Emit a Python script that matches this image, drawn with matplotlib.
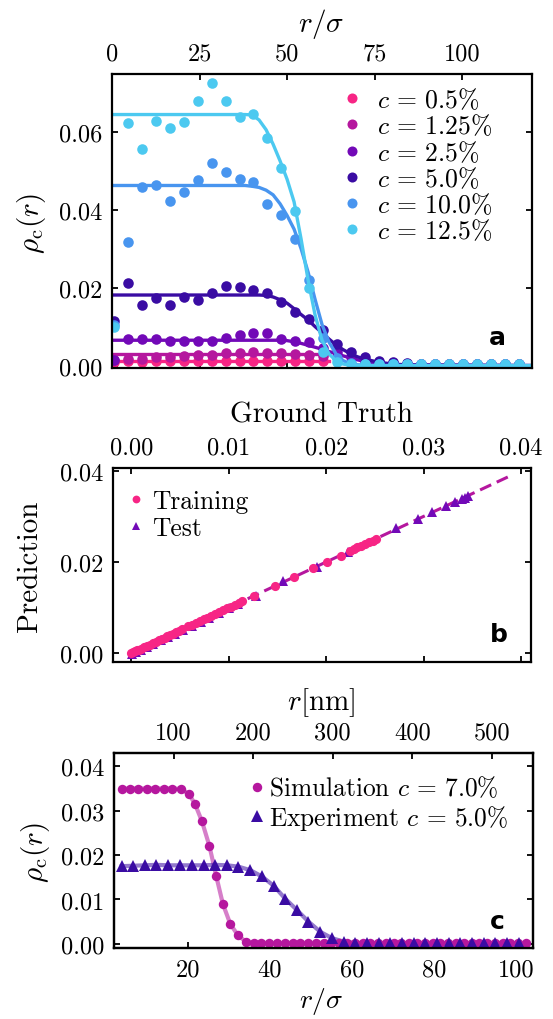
import matplotlib
matplotlib.use("Agg")
import matplotlib.pyplot as plt
from matplotlib.ticker import FixedLocator, FuncFormatter

plt.rcParams['font.family'] = 'serif'
plt.rcParams['font.serif'] = ['cmr10', 'DejaVu Serif']
plt.rcParams['mathtext.fontset'] = 'cm'
plt.rcParams['axes.unicode_minus'] = False
plt.rcParams['axes.formatter.use_mathtext'] = True

# ---------------- Panel a data ----------------
a_x = [0.4, 4.4, 8.4, 12.4, 16.4, 20.4, 24.4, 28.4, 32.4, 36.4, 40.4, 44.4, 48.4, 52.4, 56.4, 60.4,
       64.4, 68.4, 72.4, 76.4, 80.4, 84.4, 88.4, 92.4, 96.4, 100.4, 104.4, 108.4, 112.4, 116.4]
a_labels = ['$c\\,=\\,0.5\\%$', '$c\\,=\\,1.25\\%$', '$c\\,=\\,2.5\\%$', '$c\\,=\\,5.0\\%$',
            '$c\\,=\\,10.0\\%$', '$c\\,=\\,12.5\\%$']
a_colors = ['#f72585', '#b5179e', '#7209b7', '#3a0ca3', '#4895ef', '#4cc9f0']

pts_c05 = [0.0009, 0.0011, 0.0010, 0.0012, 0.0011, 0.0012, 0.0011, 0.0012, 0.0012, 0.0013, 0.0012,
           0.0013, 0.0012, 0.0012, 0.0011, 0.0011]
pts_c125 = [0.0015, 0.0017, 0.0018, 0.0021, 0.0022, 0.0025, 0.0026, 0.0027, 0.0031, 0.0033, 0.0034,
            0.0033, 0.0031, 0.0030, 0.0028, 0.0024]
pts_c25 = [0.0015, 0.0068, 0.0067, 0.0067, 0.0064, 0.0064, 0.0064, 0.0064, 0.0070, 0.0079, 0.0083,
           0.0083, 0.0068, 0.0062, 0.0060, 0.0044, 0.0034, 0.0021, 0.0013, 0.0008, 0.0006, 0.0005,
           0.0005, 0.0004, 0.0004, 0.0004, 0.0004, 0.0004, 0.0004, 0.0004]
pts_c50 = [0.0115, 0.0212, 0.0156, 0.0173, 0.0156, 0.0177, 0.0167, 0.0185, 0.0203, 0.0202, 0.0195,
           0.0185, 0.0164, 0.0138, 0.0120, 0.0090, 0.0056, 0.0034, 0.0021, 0.0013, 0.0008, 0.0006,
           0.0005, 0.0005, 0.0004, 0.0004, 0.0004, 0.0004, 0.0004, 0.0004]
pts_c100 = [0.0105, 0.0316, 0.0459, 0.0464, 0.0421, 0.0444, 0.0476, 0.0520, 0.0497, 0.0479, 0.0472,
            0.0415, 0.0386, 0.0325, 0.0220, 0.0070, 0.0020, 0.0007, 0.0005, 0.0004, 0.0004, 0.0004,
            0.0004, 0.0004, 0.0004, 0.0004, 0.0004, 0.0004, 0.0004, 0.0004]
pts_c125b = [0.0098, 0.0622, 0.0556, 0.0628, 0.0609, 0.0626, 0.0679, 0.0724, 0.0678, 0.0637, 0.0645,
             0.0585, 0.0506, 0.0397, 0.0198, 0.0036, 0.0008, 0.0004, 0.0004, 0.0004, 0.0004, 0.0004,
             0.0004, 0.0004, 0.0004, 0.0004, 0.0004, 0.0004, 0.0004, 0.0004]

# fitted profile curves
fit_x_short = [0, 62]
fit_c05 = [0.0012, 0.0012]
fit_c125 = [0.0030, 0.0030]
fit_x = [0, 36, 38, 40, 42, 44, 46, 48, 50, 52, 54, 56, 58, 60, 62, 64, 66, 68, 70, 72, 76, 80, 84, 120]
fit_c25 = [0.0065, 0.0065, 0.0065, 0.0065, 0.0065, 0.0065, 0.0065, 0.0065, 0.0064, 0.0061, 0.0057,
           0.0052, 0.0047, 0.0042, 0.0036, 0.0031, 0.0025, 0.0020, 0.0015, 0.0011, 0.0005, 0.0002,
           0.0001, 0.0]
fit_c50 = [0.0181, 0.0181, 0.0181, 0.0181, 0.0181, 0.0180, 0.0176, 0.0169, 0.0160, 0.0146, 0.0131,
           0.0117, 0.0100, 0.0084, 0.0068, 0.0053, 0.0041, 0.0031, 0.0023, 0.0017, 0.0009, 0.0004,
           0.0002, 0.0]
fit_c100 = [0.0462, 0.0462, 0.0462, 0.0460, 0.0457, 0.0450, 0.0438, 0.0415, 0.0385, 0.0350, 0.0300,
            0.0240, 0.0170, 0.0105, 0.0060, 0.0030, 0.0013, 0.0005, 0.0002, 0.0001, 0.0, 0.0, 0.0, 0.0]
fit_c125b = [0.0644, 0.0644, 0.0644, 0.0643, 0.0630, 0.0605, 0.0568, 0.0525, 0.0478, 0.0420, 0.0325,
             0.0220, 0.0130, 0.0065, 0.0030, 0.0012, 0.0004, 0.0001, 0.0, 0.0, 0.0, 0.0, 0.0, 0.0]

a_xticks = [0, 25, 50, 75, 100]
a_yticks = [0.00, 0.02, 0.04, 0.06]

# ---------------- Panel b data ----------------
train_gt = [0.0000, 0.0002, 0.0004, 0.0006, 0.0008, 0.0010, 0.0013, 0.0016, 0.0019, 0.0022, 0.0025,
            0.0028, 0.0031, 0.0034, 0.0037, 0.0040, 0.0043, 0.0046, 0.0049, 0.0052, 0.0058, 0.0062,
            0.0066, 0.0070, 0.0074, 0.0078, 0.0082, 0.0086, 0.0090, 0.0094, 0.0098, 0.0102, 0.0106,
            0.0110, 0.0113, 0.0126, 0.0147, 0.0167, 0.0186, 0.0201, 0.0215, 0.0224, 0.0228, 0.0232,
            0.0236, 0.0240, 0.0244, 0.0248, 0.0251]
train_pred = [0.0000, 0.0002, 0.0004, 0.0006, 0.0008, 0.0010, 0.0013, 0.0016, 0.0019, 0.0022, 0.0025,
              0.0028, 0.0031, 0.0034, 0.0037, 0.0040, 0.0043, 0.0046, 0.0049, 0.0052, 0.0059, 0.0062,
              0.0066, 0.0070, 0.0075, 0.0078, 0.0082, 0.0086, 0.0090, 0.0094, 0.0098, 0.0102, 0.0106,
              0.0110, 0.0114, 0.0125, 0.0147, 0.0168, 0.0186, 0.0200, 0.0214, 0.0223, 0.0228, 0.0232,
              0.0236, 0.0240, 0.0244, 0.0247, 0.0250]
test_gt = [0.0001, 0.0005, 0.0010, 0.0016, 0.0022, 0.0030, 0.0038, 0.0045, 0.0053, 0.0062, 0.0071,
           0.0080, 0.0090, 0.0100, 0.0109, 0.0128, 0.0156, 0.0190, 0.0222, 0.0272, 0.0294, 0.0309,
           0.0323, 0.0332, 0.0339, 0.0342, 0.0345]
test_pred = [-0.0001, 0.0003, 0.0008, 0.0014, 0.0020, 0.0028, 0.0036, 0.0043, 0.0051, 0.0060, 0.0069,
             0.0078, 0.0088, 0.0098, 0.0107, 0.0125, 0.0158, 0.0188, 0.0222, 0.0274, 0.0294, 0.0309,
             0.0323, 0.0331, 0.0338, 0.0341, 0.0344]
ident_line = [0.0, 0.039]
b_ticks = [0.00, 0.01, 0.02, 0.03, 0.04]
b_yticks = [0.00, 0.02, 0.04]

# ---------------- Panel c data ----------------
sim_x = [3.8, 5.9, 7.9, 9.9, 12.0, 14.1, 16.2, 18.2, 20.2, 21.7, 23.4, 25.2, 26.9, 28.5, 30.3, 32.2,
         34.1, 36.0, 37.9, 39.8, 41.7, 43.6, 45.5, 47.4, 49.3, 51.2, 53.1, 55.0, 56.9, 58.8, 60.7,
         62.6, 64.5, 66.4, 68.3, 70.2, 72.1, 74.0, 75.9, 77.8, 79.7, 81.6, 83.5, 85.4, 87.3, 89.2,
         91.1, 93.0, 94.9, 96.8, 98.7, 100.6, 102.5]
sim_y = [0.0349, 0.0350, 0.0350, 0.0350, 0.0350, 0.0350, 0.0350, 0.0349, 0.0338, 0.0315, 0.0276,
         0.0221, 0.0152, 0.0090, 0.0045, 0.0019, 0.0005, 0.0002, 0.0001, 0.0001, 0.0001, 0.0001,
         0.0001, 0.0001, 0.0001, 0.0001, 0.0001, 0.0001, 0.0001, 0.0001, 0.0001, 0.0001, 0.0001,
         0.0001, 0.0001, 0.0001, 0.0001, 0.0001, 0.0001, 0.0001, 0.0001, 0.0001, 0.0001, 0.0001,
         0.0001, 0.0001, 0.0001, 0.0001, 0.0001, 0.0001, 0.0001, 0.0001, 0.0001]
exp_x = [3.8, 6.6, 9.5, 12.3, 15.2, 18.0, 20.9, 23.8, 26.6, 29.5, 32.3, 35.2, 38.0, 40.9, 43.7, 46.6,
         49.4, 52.3, 55.1, 58.0, 60.8, 63.7, 66.5, 69.4, 72.2, 75.1, 77.9, 80.8, 83.6, 86.5, 89.3,
         92.2, 95.0, 97.9, 100.7]
exp_y = [0.0175, 0.0176, 0.0177, 0.0178, 0.0177, 0.0177, 0.0177, 0.0177, 0.0178, 0.0177, 0.0174,
         0.0166, 0.0152, 0.0131, 0.0102, 0.0076, 0.0050, 0.0027, 0.0013, 0.0005, 0.0002, 0.0001,
         0.0001, 0.0001, 0.0001, 0.0001, 0.0001, 0.0001, 0.0001, 0.0001, 0.0001, 0.0001, 0.0001,
         0.0001, 0.0001]
c_labels = ['Simulation $c\\,=\\,7.0\\%$', 'Experiment $c\\,=\\,5.0\\%$']
c_xticks = [20, 40, 60, 80, 100]
c_topticks = [100, 200, 300, 400, 500]
c_yticks = [0.00, 0.01, 0.02, 0.03, 0.04]

W, H = 553, 1020
fig = plt.figure(figsize=(W / 100, H / 100), dpi=100)


def rect(l, r, t, b):
    return [l / W, 1 - b / H, (r - l) / W, (b - t) / H]


TICK_FS = 17.5
LAB_FS = 21
SPINE_W = 1.6
TICK_LEN = 4.2


def style(ax):
    for s in ax.spines.values():
        s.set_linewidth(SPINE_W)
    ax.tick_params(which='both', direction='in', length=TICK_LEN, width=1.3, labelsize=TICK_FS,
                   top=True, bottom=True, left=True, right=True, pad=7)


fmt2 = FuncFormatter(lambda v, p: f"{v:.2f}")
fmti = FuncFormatter(lambda v, p: f"{int(round(v))}")

# ---------------- Panel a ----------------
axa = fig.add_axes(rect(112.2, 531.9, 75, 369.3))
style(axa)
series = [(a_x[:16], pts_c05, fit_x_short, fit_c05),
          (a_x[:16], pts_c125, fit_x_short, fit_c125),
          (a_x, pts_c25, fit_x, fit_c25),
          (a_x, pts_c50, fit_x, fit_c50),
          (a_x, pts_c100, fit_x, fit_c100),
          (a_x, pts_c125b, fit_x, fit_c125b)]
for (px, py, fx, fy), col, lab in zip(series, a_colors, a_labels):
    axa.plot(px, py, 'o', color=col, ms=7.6, mew=0, label=lab)
    axa.plot(fx, fy, '-', color=col, lw=2.4)
axa.set_xlim(0, 120)
axa.set_ylim(-0.0007, 0.0748)
axa.xaxis.set_major_locator(FixedLocator(a_xticks))
axa.yaxis.set_major_locator(FixedLocator(a_yticks))
axa.xaxis.set_major_formatter(fmti)
axa.yaxis.set_major_formatter(fmt2)
axa.tick_params(axis='x', labelbottom=False, labeltop=True)
axa.legend(loc='upper left', bbox_to_anchor=(0.5416, 0.958), frameon=False, fontsize=18.5,
           handletextpad=0.45, handlelength=1.0, labelspacing=0.02, borderaxespad=0.0,
           borderpad=0.0, markerscale=0.95)
axa.text(0.917, 0.106, 'a', transform=axa.transAxes, ha='center', va='center',
         fontsize=18, fontweight='bold', family='DejaVu Sans')
fig.text(321 / W, 1 - 24 / H, '$r/\\sigma$', ha='center', va='center', fontsize=LAB_FS)
fig.text(31 / W, 1 - 224 / H, '$\\rho_{\\rm c}(r)$', ha='center', va='center', rotation=90,
         fontsize=LAB_FS)

# ---------------- Panel b ----------------
axb = fig.add_axes(rect(112.9, 530.9, 469, 663.3))
style(axb)
axb.plot(ident_line, ident_line, color='#b5179e', lw=2.2, dashes=(4, 2), zorder=1)
h_test, = axb.plot(test_gt, test_pred, '^', color='#7209b7', ms=7, mew=0, zorder=2, label='Test')
h_train, = axb.plot(train_gt, train_pred, 'o', color='#f72585', ms=6.6, mew=0, zorder=3,
                    label='Training')
axb.set_xlim(-0.0019, 0.041)
axb.set_ylim(-0.002, 0.0406)
axb.xaxis.set_major_locator(FixedLocator(b_ticks))
axb.yaxis.set_major_locator(FixedLocator(b_yticks))
axb.xaxis.set_major_formatter(fmt2)
axb.yaxis.set_major_formatter(fmt2)
axb.tick_params(axis='x', labelbottom=False, labeltop=True)
axb.legend(handles=[h_train, h_test], loc='upper left', bbox_to_anchor=(0.0364, 0.893),
           frameon=False, fontsize=18.4, handletextpad=0.32, handlelength=0.6, labelspacing=0.13,
           borderaxespad=0.0, borderpad=0.0, markerscale=0.85)
axb.text(0.924, 0.146, 'b', transform=axb.transAxes, ha='center', va='center',
         fontsize=18, fontweight='bold', family='DejaVu Sans')
fig.text(321 / W, 1 - 415 / H, 'Ground Truth', ha='center', va='center', fontsize=LAB_FS)
fig.text(30 / W, 1 - 566 / H, 'Prediction', ha='center', va='center', rotation=90,
         fontsize=LAB_FS)

# ---------------- Panel c ----------------
axc = fig.add_axes(rect(113.6, 532.6, 754, 949.3))
style(axc)
axc.plot(sim_x, sim_y, '-', color='#b5179e', lw=3, alpha=0.55, zorder=1)
axc.plot(exp_x, exp_y, '-', color='#3a0ca3', lw=3, alpha=0.55, zorder=1)
h_sim, = axc.plot(sim_x, sim_y, 'o', color='#b5179e', ms=6.8, mew=0, zorder=3, label=c_labels[0])
h_exp, = axc.plot(exp_x, exp_y, '^', color='#3a0ca3', ms=8, mew=0, zorder=4, label=c_labels[1])
axc.set_xlim(1.83, 104.1)
axc.set_ylim(-0.001, 0.043)
axc.xaxis.set_major_locator(FixedLocator(c_xticks))
axc.yaxis.set_major_locator(FixedLocator(c_yticks))
axc.xaxis.set_major_formatter(fmti)
axc.yaxis.set_major_formatter(fmt2)
axc.tick_params(axis='x', top=False)
axc.legend(handles=[h_sim, h_exp], loc='upper left', bbox_to_anchor=(0.326, 0.889),
           frameon=False, fontsize=18.3, handletextpad=0.25, handlelength=0.5, labelspacing=0.1,
           borderaxespad=0.0, borderpad=0.0, markerscale=1.0)
axc.text(0.915, 0.141, 'c', transform=axc.transAxes, ha='center', va='center',
         fontsize=18, fontweight='bold', family='DejaVu Sans')
axt = axc.twiny()
axt.set_xlim(24.7, 551)
axt.xaxis.set_major_locator(FixedLocator(c_topticks))
axt.xaxis.set_major_formatter(fmti)
axt.tick_params(axis='x', direction='in', length=TICK_LEN, width=1.3, labelsize=TICK_FS, pad=7)
for s in axt.spines.values():
    s.set_linewidth(SPINE_W)
fig.text(321 / W, 1 - 703 / H, '$r[\\mathrm{nm}]$', ha='center', va='center', fontsize=LAB_FS)
fig.text(321 / W, 1 - 1002 / H, '$r/\\sigma$', ha='center', va='center', fontsize=20)
fig.text(35 / W, 1 - 853 / H, '$\\rho_{\\rm c}(r)$', ha='center', va='center', rotation=90,
         fontsize=LAB_FS)

fig.savefig('out.png', dpi=100)
